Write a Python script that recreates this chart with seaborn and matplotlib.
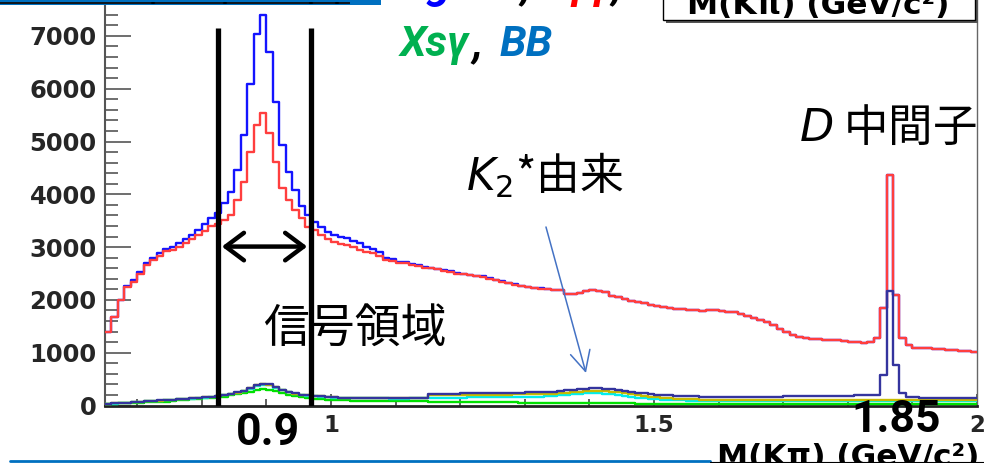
import numpy as np
import pandas as pd
import matplotlib
matplotlib.use("Agg")
import matplotlib.pyplot as plt
import seaborn as sns
from matplotlib.patches import Rectangle, Circle
from matplotlib.ticker import MultipleLocator

# M(Kpi) histogram, 10 MeV/c^2 bins from 0.65 to 2.00 GeV/c^2
mass_lo, mass_hi, n_bins = 0.65, 2.00, 135

counts_blue = [
    1395, 1685, 1995, 2265, 2370, 2530, 2700, 2790, 2880, 2970,
    3000, 3080, 3150, 3230, 3330, 3440, 3560, 3650, 3830, 4050,
    4460, 5120, 6090, 7035, 7395, 6700, 5755, 4935, 4430, 4080,
    3780, 3610, 3480, 3390, 3290, 3230, 3200, 3165, 3110, 3080,
    3010, 2960, 2900, 2790, 2775, 2725, 2710, 2680, 2655, 2620,
    2610, 2590, 2560, 2540, 2510, 2500, 2480, 2460, 2448, 2408,
    2385, 2350, 2323, 2292, 2272, 2252, 2227, 2216, 2201, 2196,
    2190, 2120, 2115, 2130, 2175, 2190, 2160, 2155, 2080, 2060,
    2020, 1980, 1960, 1940, 1905, 1880, 1860, 1850, 1835, 1825,
    1810, 1800, 1795, 1805, 1810, 1795, 1780, 1775, 1740, 1690,
    1650, 1610, 1585, 1520, 1440, 1400, 1330, 1305, 1280, 1265,
    1260, 1250, 1240, 1245, 1215, 1210, 1195, 1190, 1200, 1275,
    1845, 4365, 2095, 1275, 1145, 1085, 1090, 1090, 1075, 1070,
    1060, 1045, 1040, 1030, 1020,
]

counts_red = [
    1390, 1680, 1990, 2250, 2345, 2500, 2660, 2755, 2830, 2925,
    2945, 3010, 3085, 3150, 3230, 3300, 3400, 3430, 3510, 3610,
    3890, 4240, 4810, 5310, 5545, 5155, 4620, 4110, 3890, 3700,
    3545, 3390, 3325, 3230, 3150, 3100, 3060, 3040, 3000, 2950,
    2915, 2880, 2840, 2760, 2740, 2705, 2690, 2660, 2640, 2610,
    2600, 2580, 2550, 2530, 2500, 2490, 2470, 2450, 2440, 2400,
    2380, 2345, 2320, 2290, 2270, 2250, 2225, 2215, 2200, 2195,
    2190, 2120, 2115, 2130, 2175, 2190, 2160, 2155, 2080, 2060,
    2020, 1980, 1960, 1940, 1905, 1880, 1860, 1850, 1835, 1825,
    1810, 1800, 1795, 1805, 1810, 1795, 1780, 1775, 1740, 1690,
    1650, 1610, 1585, 1520, 1440, 1400, 1330, 1305, 1280, 1265,
    1260, 1250, 1240, 1245, 1215, 1210, 1195, 1190, 1200, 1275,
    1845, 4365, 2095, 1275, 1145, 1085, 1090, 1090, 1075, 1070,
    1060, 1045, 1040, 1030, 1020,
]

counts_navy = [
    32, 40, 48, 56, 64, 72, 80, 88, 96, 104,
    112, 120, 128, 136, 145, 155, 168, 183, 203, 223,
    248, 283, 333, 383, 408, 398, 353, 303, 258, 228,
    208, 195, 188, 178, 168, 158, 151, 148, 145, 143,
    141, 140, 139, 139, 138, 138, 138, 139, 139, 140,
    218, 220, 222, 224, 226, 228, 230, 232, 234, 236,
    238, 240, 242, 244, 246, 248, 250, 253, 258, 265,
    275, 288, 300, 312, 320, 325, 326, 320, 305, 290,
    275, 258, 240, 228, 218, 208, 198, 190, 183, 178,
    174, 171, 169, 168, 167, 167, 167, 167, 167, 167,
    168, 168, 169, 170, 170, 171, 172, 173, 174, 175,
    176, 177, 178, 180, 182, 185, 190, 195, 200, 205,
    578, 2175, 767, 231, 170, 155, 145, 140, 138, 137,
    136, 136, 135, 135, 135,
]

counts_olive = [
    30, 38, 46, 54, 62, 70, 78, 86, 94, 102,
    110, 118, 126, 134, 142, 152, 165, 180, 200, 220,
    245, 280, 330, 380, 405, 395, 350, 300, 255, 225,
    205, 192, 185, 175, 165, 155, 148, 145, 142, 140,
    138, 137, 136, 136, 135, 135, 135, 136, 136, 137,
    190, 192, 194, 196, 198, 200, 202, 203, 204, 205,
    206, 207, 208, 209, 210, 212, 213, 215, 218, 222,
    230, 240, 255, 265, 275, 280, 282, 278, 265, 250,
    235, 215, 200, 185, 170, 160, 150, 140, 132, 125,
    120, 116, 112, 110, 108, 106, 105, 104, 104, 104,
    104, 104, 104, 104, 103, 103, 103, 103, 103, 103,
    103, 102, 102, 102, 102, 102, 102, 102, 103, 104,
    106, 110, 106, 103, 102, 101, 101, 101, 101, 100,
    100, 100, 100, 100, 100,
]

counts_cyan = [
    28, 36, 44, 52, 60, 68, 76, 84, 92, 100,
    108, 116, 124, 132, 140, 150, 162, 176, 195, 214,
    238, 270, 318, 365, 390, 380, 338, 290, 248, 220,
    200, 188, 180, 170, 160, 150, 144, 141, 139, 137,
    135, 134, 133, 133, 132, 132, 132, 133, 133, 134,
    140, 142, 144, 146, 148, 150, 152, 154, 156, 158,
    160, 161, 162, 163, 164, 165, 167, 170, 175, 180,
    190, 200, 212, 222, 228, 231, 230, 222, 210, 195,
    180, 165, 150, 140, 130, 120, 112, 105, 100, 96,
    93, 90, 88, 87, 86, 85, 85, 85, 85, 85,
    85, 85, 85, 84, 84, 84, 84, 84, 84, 84,
    83, 83, 83, 83, 83, 83, 83, 83, 84, 85,
    88, 92, 88, 84, 83, 82, 82, 82, 82, 81,
    81, 81, 80, 80, 80,
]

counts_green = [
    30, 35, 40, 45, 50, 55, 60, 65, 70, 75,
    85, 95, 105, 115, 125, 135, 145, 155, 170, 190,
    210, 235, 265, 290, 305, 300, 270, 235, 200, 175,
    155, 140, 125, 115, 108, 102, 98, 95, 92, 90,
    88, 87, 86, 85, 84, 83, 82, 80, 78, 76,
    72, 71, 70, 68, 67, 66, 65, 63, 62, 61,
    60, 59, 58, 57, 56, 54, 53, 52, 51, 50,
    49, 48, 47, 46, 45, 44, 43, 42, 41, 40,
    39, 38, 37, 36, 35, 34, 34, 33, 33, 32,
    32, 31, 31, 30, 30, 30, 29, 29, 29, 28,
    28, 28, 28, 28, 27, 27, 27, 27, 27, 27,
    27, 26, 26, 26, 26, 26, 26, 26, 26, 27,
    28, 30, 28, 26, 26, 25, 25, 25, 25, 25,
    25, 25, 25, 25, 25,
]

y_ticks = [0, 1000, 2000, 3000, 4000, 5000, 6000, 7000]
x_ticks = [1.0, 1.5, 2.0]
x_tick_labels = ["1", "1.5", "2"]
signal_window = (0.825, 0.969)

edges = np.linspace(mass_lo, mass_hi, n_bins + 1)
centers = 0.5 * (edges[:-1] + edges[1:])

sns.set_theme(style="white")
plt.rcParams["font.family"] = ["DejaVu Sans"]

W, H = 984, 463
fig = plt.figure(figsize=(W / 100, H / 100), dpi=100)
fig.patch.set_facecolor("white")


def fp(x, y):
    """pixel position (from top-left) -> figure fraction"""
    return x / W, 1 - y / H


ax = fig.add_axes([105 / W, 1 - 405.5 / H, 872 / W, 405.5 / H])
ax.set_facecolor("white")

series = [
    (counts_blue, "#1414ff", 2),
    (counts_red, "#ff3e3e", 3),
    (counts_green, "#00e000", 4),
    (counts_cyan, "#00eeee", 5),
    (counts_olive, "#c8bc00", 6),
    (counts_navy, "#34349e", 7),
]
for counts, color, z in series:
    df = pd.DataFrame({"mass": centers, "n": counts})
    sns.histplot(data=df, x="mass", weights="n", bins=n_bins,
                 binrange=(mass_lo, mass_hi), element="step", fill=False,
                 color=color, linewidth=1.7, ax=ax, zorder=z)

ax.set_xlim(mass_lo, mass_hi)
ax.set_ylim(0, 7680)
ax.set_xlabel("")
ax.set_ylabel("")

ax.spines["top"].set_visible(False)
ax.spines["left"].set_color("#555555")
ax.spines["left"].set_linewidth(1.5)
ax.spines["bottom"].set_color("#222222")
ax.spines["bottom"].set_linewidth(2.0)
ax.spines["right"].set_color("#666666")
ax.spines["right"].set_linewidth(1.0)

ax.set_yticks(y_ticks)
ax.yaxis.set_minor_locator(MultipleLocator(200))
ax.set_xticks(x_ticks, labels=x_tick_labels)
ax.xaxis.set_minor_locator(MultipleLocator(0.1))
ax.tick_params(axis="y", which="major", direction="in", length=19, width=1.2,
               color="#555555", labelsize=17.5, pad=6)
ax.tick_params(axis="y", which="minor", direction="in", length=9, width=1.2,
               color="#555555")
ax.tick_params(axis="x", which="major", direction="in", length=9, width=1.2,
               color="#444444", labelsize=16.5, pad=6)
ax.tick_params(axis="x", which="minor", direction="in", length=5, width=1.2,
               color="#444444")
ax.tick_params(left=True, bottom=True, which="both")
for lab in ax.get_yticklabels() + ax.get_xticklabels():
    lab.set_fontweight("bold")

# signal window markers
for xv in signal_window:
    ax.plot([xv, xv], [0, 7150], color="black", lw=3.8, zorder=10,
            solid_capstyle="butt")
ax.annotate("", xy=(0.963, 3010), xytext=(0.831, 3010),
            arrowprops=dict(arrowstyle="<->,head_length=0.6,head_width=0.45",
                            lw=3.2, color="black", mutation_scale=22,
                            shrinkA=0, shrinkB=0), zorder=11)

# arrow towards the K2* bump
ax.annotate("", xy=(1.3946, 616), xytext=(1.3327, 3381),
            arrowprops=dict(arrowstyle="->,head_length=0.8,head_width=0.4",
                            lw=1.1, color="#4472c4", mutation_scale=18,
                            shrinkA=0, shrinkB=0), zorder=11)

cjk = ["Noto Sans CJK JP", "DejaVu Sans"]
fig.text(*fp(263, 329), "信号領域", family=cjk, fontsize=33,
         ha="left", va="center", color="black")
fig.text(*fp(466, 176), "$K_2$*由来", family=cjk, fontsize=31.5,
         ha="left", va="center", color="black")
fig.text(*fp(799, 128), "$D$ 中間子", family=cjk, fontsize=32,
         ha="left", va="center", color="black")

big = dict(family=["Roboto", "DejaVu Sans"], fontweight="bold", fontsize=32,
           color="black", va="baseline", ha="center")
fig.text(*fp(268, 445), "0.9", **big)
fig.text(*fp(896, 432), "1.85", **big)

leg = dict(family=["Roboto", "DejaVu Sans"], fontweight="bold",
           style="italic", fontsize=31, va="baseline", ha="left")
fig.text(*fp(400, 56), "Xsγ", color="#00b050", **leg)
fig.text(*fp(472, 56), ",", color="black", **leg)
fig.text(*fp(500, 56), "BB", color="#0070c0", **leg)
fig.text(*fp(390, -2), "Signal", color="#0000ff", **leg)
fig.text(*fp(520, -2), ",", color="black", **leg)
fig.text(*fp(558, -2), "qq", color="#ff0000", **leg)
fig.text(*fp(611, -2), ",", color="black", **leg)

# axis title (bottom right) and the title box at the top right
root_font = dict(family=["DejaVu Sans"], fontweight="bold", fontsize=22.5,
                 color="black")
fig.text(*fp(979, 466), "M(Kπ) (GeV/c²)", ha="right", va="baseline",
         **root_font)
fig.patches.append(Rectangle(fp(666, 23), 312 / W, 40 / H,
                             transform=fig.transFigure, facecolor="#555555",
                             edgecolor="none", zorder=20))
fig.patches.append(Rectangle(fp(663, 20), 312 / W, 40 / H,
                             transform=fig.transFigure, facecolor="white",
                             edgecolor="black", lw=1.0, zorder=21))
fig.text(*fp(818, 14), "M(Kπ) (GeV/c²)", ha="center", va="baseline",
         zorder=22, **root_font)

# slide decorations: header bar and footer rule
fig.patches.append(Rectangle(fp(0, 5), 381 / W, 5 / H,
                             transform=fig.transFigure, facecolor="#0070c0",
                             edgecolor="none", zorder=20))
fig.patches.append(Rectangle(fp(0, 4), 350 / W, 2 / H,
                             transform=fig.transFigure, facecolor="#101820",
                             edgecolor="none", zorder=21))
for dx in (153, 225, 311, 337):
    fig.patches.append(Circle(fp(dx, 3), 2.2 / W, transform=fig.transFigure,
                              facecolor="black", edgecolor="none", zorder=22))
fig.add_artist(plt.Line2D([10 / W, 710 / W], [1 - 461 / H, 1 - 461 / H],
                          transform=fig.transFigure, color="#0070c0", lw=2))
fig.add_artist(plt.Line2D([710 / W, 1.0], [1 - 462 / H, 1 - 462 / H],
                          transform=fig.transFigure, color="black", lw=0.8))

fig.savefig("out.png", dpi=100, facecolor="white")
